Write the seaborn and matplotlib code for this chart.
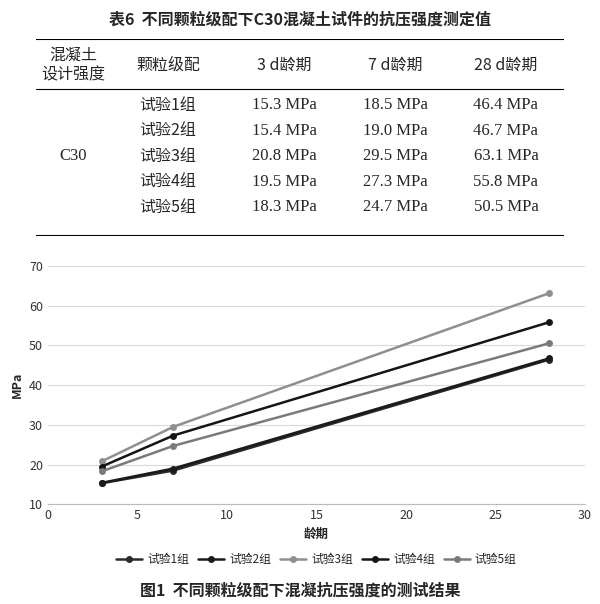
import matplotlib
matplotlib.use("Agg")
import matplotlib.pyplot as plt
import seaborn as sns
import pandas as pd

sns.set_style("white")
plt.rcParams['font.family'] = ['Noto Sans CJK SC', 'DejaVu Sans']

ages = [3, 7, 28]
groups = ["试验1组", "试验2组", "试验3组", "试验4组", "试验5组"]
g1 = [15.3, 18.5, 46.4]
g2 = [15.4, 19.0, 46.7]
g3 = [20.8, 29.5, 63.1]
g4 = [19.5, 27.3, 55.8]
g5 = [18.3, 24.7, 50.5]
series = [g1, g2, g3, g4, g5]
colors = ["#2a2a2a", "#1a1a1a", "#8f8f8f", "#151515", "#7a7a7a"]
col_headers = ["混凝土\n设计强度", "颗粒级配", "3 d龄期", "7 d龄期", "28 d龄期"]

fig = plt.figure(figsize=(6, 6.04), dpi=100)

# Table
fig.text(0.5, 0.968, "表6  不同颗粒级配下C30混凝土试件的抗压强度测定值", ha="center", va="center", fontsize=11.5, fontweight="bold")
tl = fig.add_axes([0.06, 0.61, 0.88, 0.325])
tl.set_xlim(0, 1); tl.set_ylim(0, 1); tl.axis("off")
tl.axhline(1, color="black", lw=1.5)
tl.axhline(0.0, color="black", lw=1.5)
tl.axhline(0.745, color="black", lw=0.8)
xs = [0.07, 0.25, 0.47, 0.68, 0.89]
for x, h in zip(xs, col_headers):
    tl.text(x, 0.87, h, ha="center", va="center", fontsize=11.5, linespacing=1.2)
rows_y = [0.665, 0.535, 0.405, 0.275, 0.145]
tl.text(xs[0], rows_y[2], "C30", ha="center", va="center", fontsize=12, family="Liberation Serif")
for i, (g, s) in enumerate(zip(groups, series)):
    tl.text(xs[1], rows_y[i], g, ha="center", va="center", fontsize=11.5)
    for j in range(3):
        tl.text(xs[2 + j], rows_y[i], f"{s[j]:.1f} MPa", ha="center", va="center", fontsize=12, family="Liberation Serif")

# Chart
ax = fig.add_axes([0.08, 0.165, 0.895, 0.395])
rows = []
for g, s in zip(groups, series):
    for a, v in zip(ages, s):
        rows.append({"龄期": a, "MPa": v, "组": g})
df = pd.DataFrame(rows)
sns.lineplot(data=df, x="龄期", y="MPa", hue="组", palette=colors, marker="o",
             markersize=5, markeredgewidth=0, lw=1.8, ax=ax, legend=True)
ax.set_xlim(0, 30); ax.set_ylim(10, 70)
ax.set_xticks(range(0, 31, 5)); ax.set_yticks(range(10, 71, 10))
ax.grid(axis="y", color="#d9d9d9", lw=0.8)
for sp in ["top", "right", "left"]:
    ax.spines[sp].set_visible(False)
ax.spines["bottom"].set_color("#bbbbbb")
ax.tick_params(labelsize=9, colors="#333333", length=0)
ax.set_xlabel("龄期", fontsize=9, fontweight="bold")
ax.set_ylabel("MPa", fontsize=9, fontweight="bold")
ax.legend(loc="upper center", bbox_to_anchor=(0.5, -0.16), ncol=5, frameon=False,
          fontsize=8.5, handlelength=2.2, columnspacing=0.8, handletextpad=0.4)
fig.text(0.5, 0.022, "图1  不同颗粒级配下混凝抗压强度的测试结果", ha="center", va="center", fontsize=11.5, fontweight="bold")

fig.savefig("out.png", dpi=100)
